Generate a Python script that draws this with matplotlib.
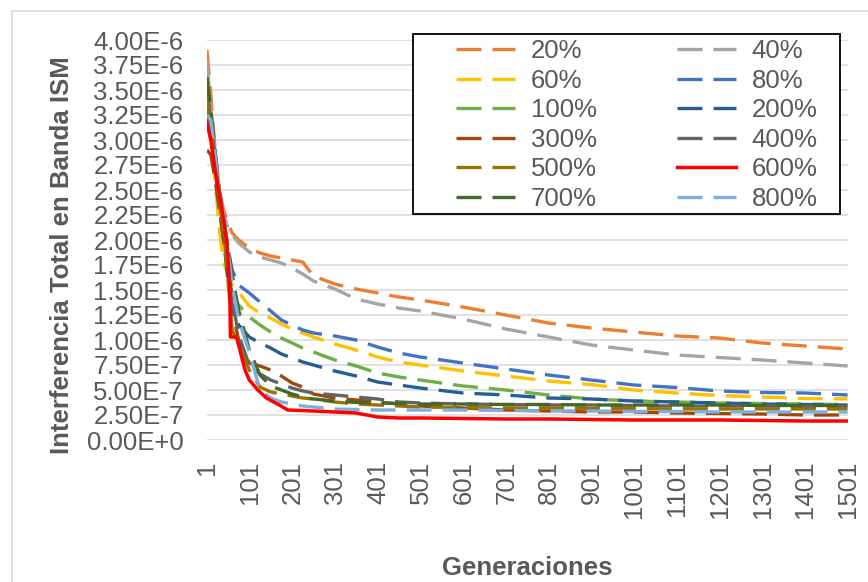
import numpy as np
import matplotlib
matplotlib.use("Agg")
import matplotlib.pyplot as plt
from matplotlib.ticker import FuncFormatter
from matplotlib.lines import Line2D

plt.rcParams['font.family'] = ['Liberation Sans', 'DejaVu Sans']

gens = [1, 10, 20, 30, 40, 50, 60, 75, 100, 125, 150, 175, 200, 225, 250,
        300, 350, 400, 450, 500, 600, 700, 800, 900, 1000, 1100, 1200, 1300, 1400, 1500]

# values in units of 1e-6
s20 = [3.90, 3.45, 2.90, 2.50, 2.30, 2.17, 2.07, 2.00, 1.92, 1.87, 1.84, 1.82, 1.80, 1.78, 1.64,
       1.56, 1.51, 1.47, 1.43, 1.40, 1.33, 1.25, 1.17, 1.12, 1.08, 1.04, 1.02, 0.97, 0.94, 0.91]
s40 = [3.80, 3.30, 2.85, 2.50, 2.25, 2.12, 2.05, 1.97, 1.88, 1.83, 1.80, 1.77, 1.72, 1.66, 1.59,
       1.51, 1.41, 1.36, 1.32, 1.29, 1.21, 1.11, 1.03, 0.95, 0.90, 0.85, 0.825, 0.80, 0.77, 0.74]
s60 = [3.20, 3.00, 2.60, 2.10, 1.78, 1.65, 1.55, 1.48, 1.34, 1.27, 1.22, 1.16, 1.11, 1.07, 1.03,
       0.96, 0.90, 0.83, 0.78, 0.75, 0.69, 0.64, 0.59, 0.555, 0.50, 0.47, 0.445, 0.43, 0.415, 0.41]
s80 = [3.30, 3.10, 2.75, 2.40, 2.10, 1.90, 1.70, 1.55, 1.47, 1.38, 1.29, 1.20, 1.15, 1.10, 1.07,
       1.04, 1.00, 0.93, 0.87, 0.83, 0.77, 0.71, 0.65, 0.60, 0.55, 0.525, 0.49, 0.475, 0.47, 0.45]
s100 = [3.30, 3.05, 2.70, 2.30, 2.00, 1.70, 1.45, 1.35, 1.23, 1.15, 1.08, 1.02, 0.97, 0.92, 0.88,
        0.80, 0.74, 0.67, 0.63, 0.60, 0.54, 0.50, 0.45, 0.41, 0.39, 0.38, 0.37, 0.365, 0.36, 0.355]
s200 = [3.30, 3.10, 2.75, 2.35, 2.00, 1.60, 1.35, 1.15, 1.03, 0.97, 0.92, 0.86, 0.82, 0.78, 0.75,
        0.69, 0.64, 0.58, 0.55, 0.52, 0.47, 0.45, 0.42, 0.41, 0.39, 0.38, 0.37, 0.36, 0.355, 0.35]
s300 = [2.90, 2.85, 2.60, 2.30, 2.00, 1.70, 1.30, 1.00, 0.77, 0.74, 0.70, 0.64, 0.57, 0.53, 0.46,
        0.42, 0.40, 0.38, 0.36, 0.34, 0.32, 0.30, 0.29, 0.28, 0.28, 0.27, 0.265, 0.26, 0.25, 0.25]
s400 = [3.50, 3.20, 2.80, 2.40, 2.10, 1.80, 1.40, 1.05, 0.75, 0.66, 0.60, 0.56, 0.52, 0.49, 0.47,
        0.45, 0.43, 0.41, 0.38, 0.37, 0.36, 0.355, 0.35, 0.35, 0.345, 0.34, 0.34, 0.34, 0.335, 0.335]
s500 = [3.40, 3.10, 2.70, 2.40, 2.10, 1.60, 1.10, 0.95, 0.70, 0.53, 0.48, 0.46, 0.44, 0.42, 0.41,
        0.38, 0.36, 0.35, 0.34, 0.33, 0.325, 0.32, 0.32, 0.315, 0.315, 0.31, 0.31, 0.31, 0.31, 0.31]
s700 = [3.63, 3.30, 2.90, 2.50, 2.20, 1.95, 1.65, 1.30, 0.90, 0.65, 0.54, 0.50, 0.46, 0.43, 0.41,
        0.39, 0.375, 0.37, 0.365, 0.36, 0.36, 0.355, 0.355, 0.35, 0.35, 0.35, 0.35, 0.345, 0.345, 0.345]
s800 = [3.25, 3.20, 2.85, 2.45, 2.20, 1.90, 1.55, 1.20, 0.88, 0.50, 0.42, 0.38, 0.36, 0.34, 0.33,
        0.31, 0.305, 0.30, 0.30, 0.30, 0.30, 0.295, 0.29, 0.29, 0.285, 0.285, 0.28, 0.28, 0.28, 0.28]

# 600% has its own read-off points (sharp drop near generation 55)
gens600 = [1, 10, 20, 30, 40, 48, 54, 56, 70, 78, 90, 100, 120, 140, 170, 190, 250,
           300, 350, 400, 450, 500, 600, 700, 800, 900, 1000, 1100, 1200, 1300, 1400, 1500]
s600 = [3.17, 3.00, 2.70, 2.45, 2.20, 1.95, 1.55, 1.03, 1.03, 0.90, 0.70, 0.60, 0.50, 0.42, 0.35, 0.30, 0.29,
        0.28, 0.27, 0.23, 0.22, 0.22, 0.215, 0.21, 0.21, 0.205, 0.20, 0.20, 0.20, 0.195, 0.19, 0.19]

names = ['20%', '40%', '60%', '80%', '100%', '200%', '300%', '400%', '500%', '600%', '700%', '800%']
colors = ['#ED7D31', '#A5A5A5', '#FFC000', '#4472C4', '#70AD47', '#255E91',
          '#9E480E', '#636363', '#997300', '#FF0000', '#43682B', '#7CAFDD']
series = [s20, s40, s60, s80, s100, s200, s300, s400, s500, s600, s700, s800]

xticks = list(range(1, 1502, 100))
yticks = np.arange(0, 4.01, 0.25)

W, H = 868, 582
fig = plt.figure(figsize=(W / 100, H / 100), dpi=100)
ax = fig.add_axes([207 / W, 1 - 440 / H, (848 - 207) / W, 400 / H])

lines = {}
for name, col, vals in zip(names, colors, series):
    g = gens600 if name == '600%' else gens
    y = np.array(vals) * 1e-6
    if name == '600%':
        ln, = ax.plot(g, y, color=col, lw=2.5, solid_joinstyle='round', zorder=3)
    else:
        ln, = ax.plot(g, y, color=col, lw=2.4, dashes=(7.5, 3.3), zorder=2)
    lines[name] = ln

txt = '#595959'
ax.set_xlim(1, 1501)
ax.set_ylim(0, 4e-6)
ax.set_yticks(yticks * 1e-6)
ax.set_xticks(xticks)
ax.set_xticklabels([str(t) for t in xticks], rotation=90, va='top', ha='center')


def fmt(v, pos):
    if abs(v) < 1e-12:
        return '0.00E+0'
    e = int(np.floor(np.log10(abs(v)) + 1e-9))
    m = v / 10 ** e
    return f'{m:.2f}E{e}'


ax.yaxis.set_major_formatter(FuncFormatter(fmt))
ax.tick_params(axis='both', length=0, labelsize=18.5, labelcolor=txt)
ax.tick_params(axis='y', pad=17)
ax.tick_params(axis='x', pad=15)
ax.grid(axis='y', color='#D9D9D9', lw=1.1)
ax.set_axisbelow(True)
for s in ax.spines.values():
    s.set_visible(False)

fig.text(62 / W, 1 - 255 / H, 'Interferencia Total en Banda ISM', rotation=90,
         ha='center', va='center', fontsize=18.5, fontweight='bold', color=txt)
fig.text(527 / W, 1 - 568 / H, 'Generaciones', ha='center', va='center',
         fontsize=18.5, fontweight='bold', color=txt)

# legend frame
fig.patches.append(plt.Rectangle((413 / W, 1 - 214 / H), (840 - 413) / W, 180 / H,
                                 transform=fig.transFigure, facecolor='white',
                                 edgecolor='black', lw=1.3, zorder=5))
order = ['20%', '40%', '60%', '80%', '100%', '200%', '300%', '400%', '500%', '600%', '700%', '800%']
# legend fills column by column, so split into the two visual columns
left = order[0::2]
right = order[1::2]
handles = [lines[n] for n in left] + [lines[n] for n in right]
labels = left + right
leg = fig.legend(handles, labels, loc='upper left', bbox_to_anchor=(456 / W, 1 - 39 / H),
                 ncol=2, frameon=False, fontsize=18.5, handlelength=2.3, handletextpad=0.62,
                 columnspacing=3.1, labelspacing=0.215, borderpad=0, borderaxespad=0)
for t in leg.get_texts():
    t.set_color(txt)
leg.set_zorder(6)

# chart outer border (left and top only visible)
fig.lines.append(Line2D([12 / W, 12 / W], [0, 1 - 11 / H], transform=fig.transFigure,
                        color='#D9D9D9', lw=1.2))
fig.lines.append(Line2D([12 / W, 1], [1 - 11 / H, 1 - 11 / H], transform=fig.transFigure,
                        color='#D9D9D9', lw=1.2))

fig.savefig('out.png', dpi=100)
